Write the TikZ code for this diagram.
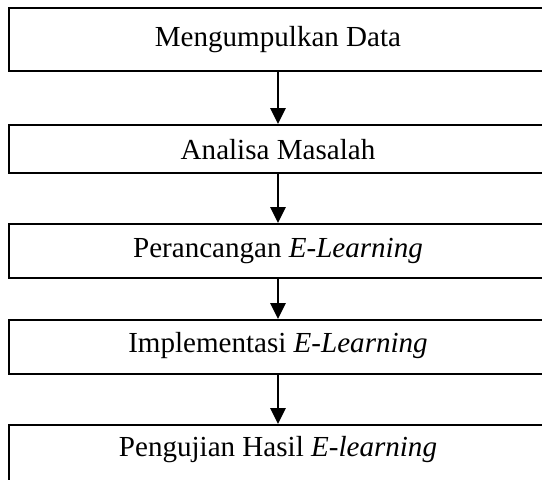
\documentclass[tikz,border=0pt]{standalone}
\usepackage{fontspec}
\setmainfont{Liberation Serif}
\usetikzlibrary{arrows.meta}
\tikzset{
    stagebox/.style={draw, line width=1.4pt, anchor=north west, minimum width=407.25pt, inner sep=0pt},
    stagetext/.style={anchor=base, inner sep=0pt, font=\fontsize{21.8}{26}\selectfont},
    flow/.style={line width=1.4pt, -{Triangle[width=11.5pt,length=12pt]}}
}
\begin{document}
\begin{tikzpicture}[x=0.75pt, y=-0.75pt]
    \useasboundingbox (0, 0) rectangle (542, 479);
    \clip (0, 0) rectangle (542, 479);
    \node[stagebox, minimum height=47.25pt] (box1) at (8, 7) {};
    \node[stagebox, minimum height=36pt] (box2) at (8, 124) {};
    \node[stagebox, minimum height=40.5pt] (box3) at (8, 223) {};
    \node[stagebox, minimum height=40.5pt] (box4) at (8, 319) {};
    \node[stagebox, minimum height=60pt] (box5) at (8, 424) {};
    \node[stagetext] (t1) at (278, 46) {Mengumpulkan Data};
    \node[stagetext] (t2) at (278, 159) {Analisa Masalah};
    \node[stagetext] (t3) at (278, 257) {Perancangan \textit{E-Learning}};
    \node[stagetext] (t4) at (278, 352) {Implementasi \textit{E-Learning}};
    \node[stagetext] (t5) at (278, 456) {Pengujian Hasil \textit{E-learning}};
    \draw[flow] (box1.south -| t1) -- (box2.north -| t1);
    \draw[flow] (box2.south -| t2) -- (box3.north -| t2);
    \draw[flow] (box3.south -| t3) -- (box4.north -| t3);
    \draw[flow] (box4.south -| t4) -- (box5.north -| t4);
\end{tikzpicture}
\end{document}
